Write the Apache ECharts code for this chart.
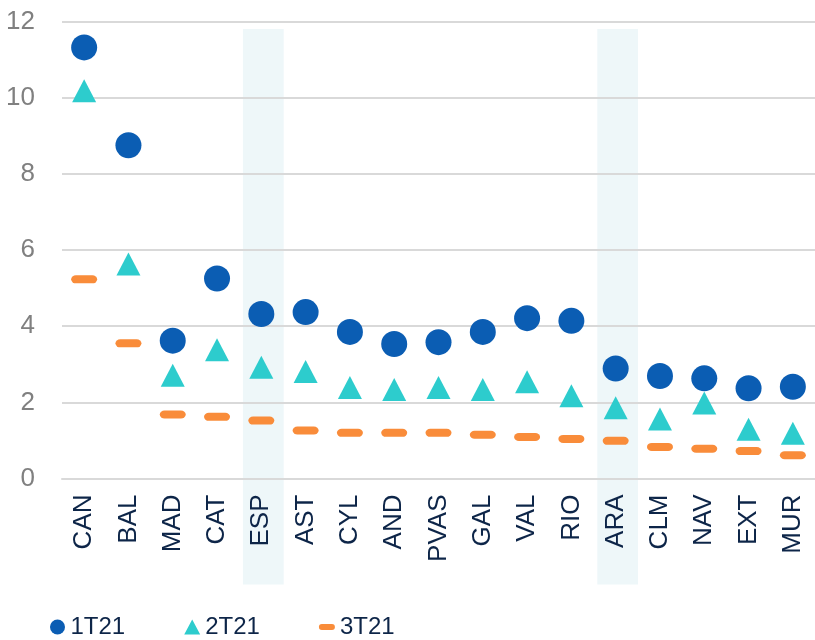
<!DOCTYPE html>
<html lang="es">
<head>
<meta charset="UTF-8">
<title>Chart</title>
<script src="https://cdn.jsdelivr.net/npm/echarts@6/dist/echarts.min.js"></script>
<style>
  html, body { margin: 0; padding: 0; background: #fff; }
  #container { width: 815px; height: 640px; }
</style>
</head>
<body>
<div id="container"></div>
<script>
  var categories = ['CAN', 'BAL', 'MAD', 'CAT', 'ESP', 'AST', 'CYL', 'AND', 'PVAS', 'GAL', 'VAL', 'RIO', 'ARA', 'CLM', 'NAV', 'EXT', 'MUR'];
  var s1T21 = [11.32, 8.75, 3.62, 5.25, 4.32, 4.37, 3.85, 3.53, 3.58, 3.85, 4.21, 4.14, 2.89, 2.69, 2.63, 2.37, 2.41];
  var s2T21 = [10.18, 5.63, 2.71, 3.38, 2.92, 2.81, 2.39, 2.34, 2.39, 2.34, 2.54, 2.17, 1.86, 1.56, 1.98, 1.29, 1.19];
  var s3T21 = [5.23, 3.55, 1.68, 1.62, 1.52, 1.26, 1.20, 1.20, 1.20, 1.15, 1.09, 1.04, 0.99, 0.83, 0.78, 0.72, 0.61];
  var seriesNames = ['1T21', '2T21', '3T21'];
  var highlighted = ['ESP', 'ARA'];
  var yMin = 0, yMax = 12, yStep = 2;

  var dash = 'path://M3.5,0H15.5A3.5,3.5,0,0,1,15.5,7H3.5A3.5,3.5,0,0,1,3.5,0Z';
  var font = '"Liberation Sans", Arial, sans-serif';

  var chart = echarts.init(document.getElementById('container'));

  // shaded columns (go down under the labels too)
  function renderBand(params, api) {
    var base = api.coord([api.value(0), 0]);
    var top = api.coord([api.value(0), 11.8]);
    var w = api.size([1, 0])[0] * 0.92;
    return {
      type: 'rect',
      shape: { x: base[0] - w / 2 + 2, y: top[1], width: w, height: base[1] - top[1] + 106 },
      style: { fill: '#eef7f9' }
    };
  }

  var option = {
    animation: false,
    grid: { left: 62, top: 21.5, width: 755, bottom: 161.5 },
    legend: {
      left: 45,
      top: 610,
      itemWidth: 16,
      itemHeight: 15,
      itemGap: 59,
      textStyle: { fontFamily: font, fontSize: 24, color: '#0d2548' },
      data: [
        { name: seriesNames[0], icon: 'circle' },
        { name: seriesNames[1], icon: 'triangle' },
        { name: seriesNames[2], icon: dash }
      ]
    },
    xAxis: {
      type: 'category',
      data: categories,
      axisLine: { lineStyle: { color: '#d9d9d9', width: 2 } },
      axisTick: { length: 7, lineStyle: { color: '#d9d9d9', width: 2 } },
      axisLabel: {
        rotate: 90,
        margin: 16,
        fontFamily: font,
        fontSize: 26,
        color: '#0d2548'
      }
    },
    yAxis: {
      type: 'value',
      min: yMin,
      max: yMax,
      interval: yStep,
      axisLine: { show: false },
      axisTick: { show: false },
      axisLabel: { margin: 27, fontFamily: font, fontSize: 26, color: '#808080' },
      splitLine: { lineStyle: { color: '#d9d9d9', width: 2 } }
    },
    series: [
      {
        type: 'custom',
        z: -1,
        clip: false,
        silent: true,
        renderItem: renderBand,
        encode: { x: 0, y: 1 },
        data: highlighted.map(function (c) { return [c, 0]; })
      },
      {
        name: seriesNames[2],
        type: 'scatter',
        symbol: dash,
        symbolSize: [26, 8],
        itemStyle: { color: '#f98c3a', opacity: 1 },
        data: s3T21
      },
      {
        name: seriesNames[1],
        type: 'scatter',
        symbol: 'triangle',
        symbolSize: [24, 23],
        itemStyle: { color: '#2dcccd', opacity: 1 },
        data: s2T21
      },
      {
        name: seriesNames[0],
        type: 'scatter',
        symbol: 'circle',
        symbolSize: 26,
        itemStyle: { color: '#0b5db3', opacity: 1 },
        data: s1T21
      }
    ]
  };

  chart.setOption(option);
</script>
</body>
</html>
